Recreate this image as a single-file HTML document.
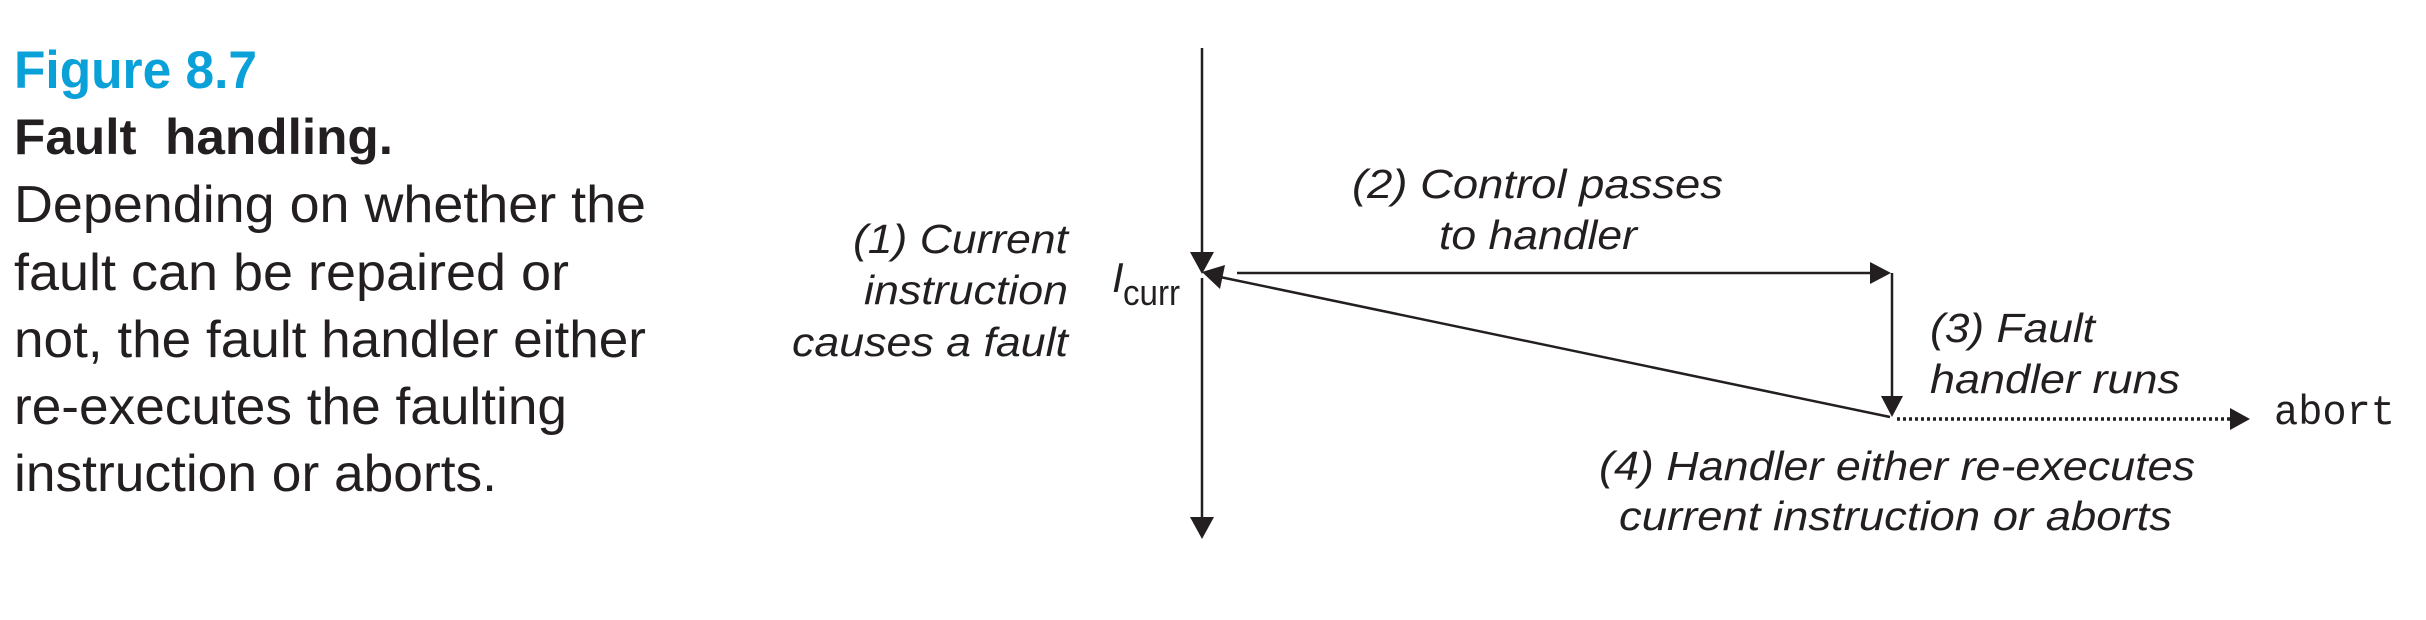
<!DOCTYPE html>
<html><head><meta charset="utf-8"><style>
html,body{margin:0;padding:0;background:#fff;}
svg{display:block;}
</style></head><body>
<svg width="2426" height="620" viewBox="0 0 2426 620" xmlns="http://www.w3.org/2000/svg">
<g font-family="'Liberation Sans', sans-serif" fill="#231f20">
<text x="14" y="88" font-size="53" font-weight="bold" fill="#0aa0d8" textLength="243" lengthAdjust="spacingAndGlyphs">Figure 8.7</text>
<text x="14" y="154" font-size="50" font-weight="bold" textLength="379" lengthAdjust="spacingAndGlyphs" xml:space="preserve">Fault  handling.</text>
<g font-size="52">
<text x="14" y="222" textLength="632" lengthAdjust="spacingAndGlyphs">Depending on whether the</text>
<text x="14" y="290" textLength="555" lengthAdjust="spacingAndGlyphs">fault can be repaired or</text>
<text x="14" y="357" textLength="632" lengthAdjust="spacingAndGlyphs">not, the fault handler either</text>
<text x="14" y="424" textLength="553" lengthAdjust="spacingAndGlyphs">re-executes the faulting</text>
<text x="14" y="491" textLength="483" lengthAdjust="spacingAndGlyphs">instruction or aborts.</text>
</g>
<g font-size="41" font-style="italic">
<text x="1068" y="253" text-anchor="end" textLength="215" lengthAdjust="spacingAndGlyphs">(1) Current</text>
<text x="1068" y="304" text-anchor="end" textLength="204" lengthAdjust="spacingAndGlyphs">instruction</text>
<text x="1068" y="356" text-anchor="end" textLength="276" lengthAdjust="spacingAndGlyphs">causes a fault</text>
<text x="1352" y="198" textLength="371" lengthAdjust="spacingAndGlyphs">(2) Control passes</text>
<text x="1439" y="249" textLength="198" lengthAdjust="spacingAndGlyphs">to handler</text>
<text x="1930" y="342" textLength="165" lengthAdjust="spacingAndGlyphs">(3) Fault</text>
<text x="1930" y="393" textLength="250" lengthAdjust="spacingAndGlyphs">handler runs</text>
<text x="1599" y="480" textLength="596" lengthAdjust="spacingAndGlyphs">(4) Handler either re-executes</text>
<text x="1619" y="530" textLength="553" lengthAdjust="spacingAndGlyphs">current instruction or aborts</text>
<text x="1112" y="292" font-size="42">I</text>
</g>
<text x="1123" y="305" font-size="36" textLength="57" lengthAdjust="spacingAndGlyphs">curr</text>
<text x="2274" y="424" font-family="'Liberation Mono', monospace" font-size="42" textLength="121" lengthAdjust="spacingAndGlyphs">abort</text>
</g>
<g stroke="#231f20" stroke-width="2.5" fill="none">
<line x1="1202" y1="48" x2="1202" y2="256"/>
<line x1="1202" y1="278" x2="1202" y2="520"/>
<line x1="1237" y1="273" x2="1873" y2="273"/>
<line x1="1892" y1="273" x2="1892" y2="398"/>
<line x1="1890" y1="417" x2="1220" y2="277"/>
<line x1="1897" y1="419" x2="2232" y2="419" stroke-dasharray="3 3" stroke-width="3.5"/>
</g>
<g fill="#231f20">
<polygon points="1190,252 1214,252 1202,274"/>
<polygon points="1190,517 1214,517 1202,539"/>
<polygon points="1870,262 1870,284 1891,273"/>
<polygon points="1881,396 1903,396 1892,417"/>
<polygon points="2230,408 2230,430 2250,419"/>
<polygon points="1202,272 1225,265 1220,289"/>
</g>
</svg>
</body></html>
